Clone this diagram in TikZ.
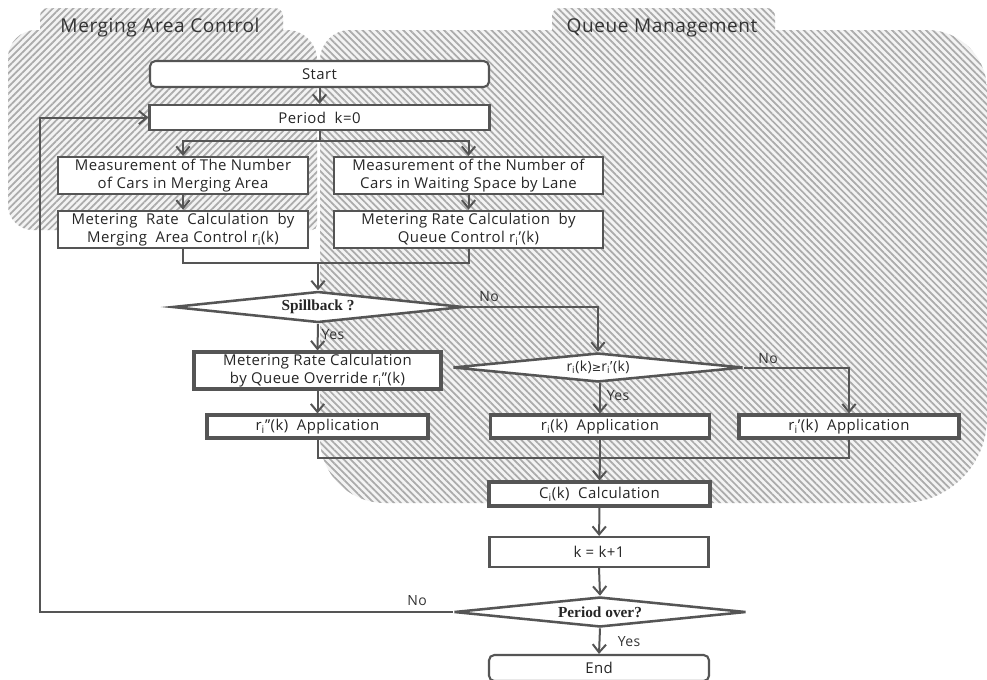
\documentclass[tikz,border=0pt]{standalone}
\usepackage{fontspec}
\setmainfont{Open Sans}[LetterSpace=3]
\newfontfamily\serifd{Liberation Serif}
\newfontfamily\symf{DejaVu Sans}
\usetikzlibrary{arrows.meta,shapes.geometric,patterns.meta}
\definecolor{lc}{HTML}{555555}
\definecolor{hc}{HTML}{ABABAB}
\definecolor{bgc}{HTML}{F3F3F3}
\newcommand{\sbi}{\textsubscript{i}}
\begin{document}
\begin{tikzpicture}[x=0.75pt,y=-0.75pt,
  sz/.style 2 args={minimum width=#1*0.75pt, minimum height=#2*0.75pt},
  box/.style={draw=lc, fill=white, line width=1.6pt, inner sep=0pt, align=center,
    text=black!85, font=\fontsize{11.2}{13.5}\selectfont},
  tbox/.style={box, line width=2.3pt},
  rbox/.style={box, rounded corners=4pt},
  dia/.style={diamond, aspect=9, draw=lc, fill=white, line width=1.9pt, inner sep=0pt,
    text=black!85, font=\serifd\bfseries\fontsize{11.5}{13}\selectfont},
  line/.style={draw=lc, line width=1.5pt},
  arr/.style={line, -{Straight Barb[length=6pt,width=10pt]}},
  lbl/.style={font=\fontsize{10.5}{12}\selectfont, text=black!80, inner sep=0pt},
  ttl/.style={font=\fontsize{14.3}{16}\selectfont, text=black!80, inner sep=0pt},
  regL/.style={preaction={fill=bgc}, pattern={Lines[angle=45,distance=3.6pt,line width=1.3pt]}, pattern color=hc},
  regR/.style={preaction={fill=bgc}, pattern={Lines[angle=-45,distance=3.6pt,line width=1.3pt]}, pattern color=hc}
]
\useasboundingbox (0,0) rectangle (987,679);
% regions
\path[regL] (8,58) arc[start angle=180,end angle=270,radius=28] -- (287,30)
  arc[start angle=270,end angle=360,radius=30] -- (317,225)
  arc[start angle=0,end angle=90,radius=5] -- (33,230)
  arc[start angle=90,end angle=180,radius=25] -- cycle;
\path[regL] (40,38) -- (40,16) arc[start angle=180,end angle=270,radius=8] -- (275,8)
  arc[start angle=270,end angle=360,radius=8] -- (283,38) -- cycle;
\path[regR] (320,60) arc[start angle=180,end angle=270,radius=30] -- (927,30)
  arc[start angle=270,end angle=360,radius=60] -- (987,418)
  arc[start angle=0,end angle=90,radius=85] -- (385,503)
  arc[start angle=90,end angle=180,radius=65] -- cycle;
\path[regR] (552,38) -- (552,16) arc[start angle=180,end angle=270,radius=8] -- (767,8)
  arc[start angle=270,end angle=360,radius=8] -- (775,38) -- cycle;
\node[ttl] (tL) at (160,28) {Merging Area Control};
\node[ttl] (tR) at (662,28) {Queue Management};

% nodes
\node[rbox, sz={339}{26}] (start) at (319.5,74) {Start};
\node[box, sz={340}{25}] (period) at (319.5,117.5) {Period\ \ k=0};
\node[box, sz={250}{37}] (meas1) at (183,175.5) {Measurement of The Number\\of Cars in Merging Area};
\node[box, sz={269}{37}] (meas2) at (468.5,175.5) {Measurement of the Number of\\Cars in Waiting Space by Lane};
\node[box, line width=2pt, sz={250}{37}] (met1) at (183,229.5) {Metering\ \ Rate\ \ Calculation\ \ by\\Merging\ \ Area Control r\sbi(k)};
\node[box, line width=2pt, sz={269}{37}] (met2) at (468.5,229.5) {Metering Rate Calculation\ \ by\\Queue Control r\sbi'(k)};
\node[dia, sz={291}{31}] (spill) at (318,307) {Spillback ?};
\node[tbox, sz={247}{37}] (ovr) at (317.5,370.5) {Metering Rate Calculation\\by Queue Override r\sbi''(k)};
\node[tbox, sz={221}{23}] (app1) at (317.5,426.5) {r\sbi''(k)\ \ Application};
\node[dia, sz={290}{29}, font=\fontsize{10.5}{12}\selectfont] (cmp) at (598,367.5) {r\sbi(k){\symf\fontsize{8.5}{10}\selectfont ≥}r\sbi'(k)};
\node[tbox, sz={219}{23}] (app2) at (600,426.5) {r\sbi(k)\ \ Application};
\node[tbox, sz={220}{23}] (app3) at (849,426.5) {r\sbi'(k)\ \ Application};
\node[tbox, sz={221}{24}] (calc) at (599.5,494) {C\sbi(k)\ \ Calculation};
\node[box, sz={219}{30}] (kinc) at (599,552) {k\ =\ k+1};
\node[dia, sz={292}{30}] (over) at (600,612) {Period over?};
\node[rbox, sz={220}{26}] (end) at (599,668) {End};

% coordinates
\coordinate (j0) at (319.5,141);
\coordinate (j1) at (318,263);
\coordinate (j2) at (600,458);
\coordinate (lp) at (40,612);

% connectors
\draw[arr] (start) -- (period);
\draw[line] (period.south) -- (j0);
\draw[arr] (j0) -| (meas1.north);
\draw[arr] (j0) -| (meas2.north);
\draw[arr] (meas1) -- (met1);
\draw[arr] (meas2) -- (met2);
\draw[line] (met1.south) |- (j1) -| (met2.south);
\draw[arr] (j1) -- (spill.north);
\draw[arr] (spill.south) -- (ovr.north);
\draw[arr] (spill.east) -| (cmp.north);
\draw[arr] (ovr) -- (app1);
\draw[arr] (cmp.south -| app2.north) -- (app2.north);
\draw[arr] (cmp.east) -| (app3.north);
\draw[line] (app1.south) |- (j2) -| (app3.south);
\draw[line] (app2.south) -- (j2);
\draw[arr] (j2) -- (calc.north);
\draw[arr] (calc) -- (kinc);
\draw[arr] (kinc.south) -- (over.north);
\draw[arr] (over.south) -- (end.north);
\draw[arr] (over.west) -- (lp) |- (period.west);

% labels
\node[lbl] (n1) at (489,297) {No};
\node[lbl] (y1) at (333,335) {Yes};
\node[lbl] (n2) at (768,359) {No};
\node[lbl] (y2) at (618,396) {Yes};
\node[lbl] (n3) at (417,601) {No};
\node[lbl] (y3) at (629,642) {Yes};
\end{tikzpicture}
\end{document}
